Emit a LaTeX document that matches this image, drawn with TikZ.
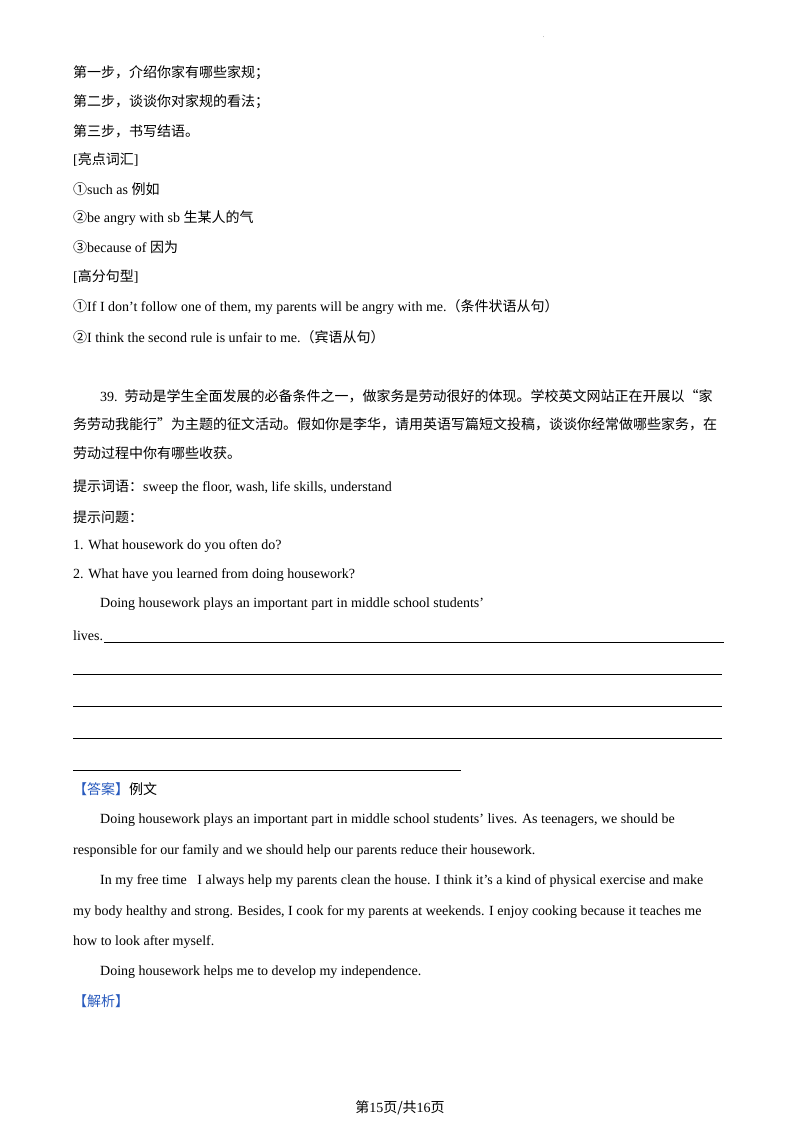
\documentclass[tikz,border=0pt]{standalone}
\usepackage{fontspec}
\setmainfont{Liberation Serif}
\newfontfamily\cjk{Noto Sans CJK SC}
\definecolor{ans}{RGB}{40,90,190}
\begin{document}
\begin{tikzpicture}[x=1pt,y=-1pt,
  t/.style={anchor=west,inner sep=0pt,font=\fontsize{14}{16}\selectfont},
  ul/.style={line width=0.6pt}]
\useasboundingbox[fill=white] (0,0) rectangle (800,1132);
\node[t,font=\tiny] (dot) at (543,37) {.};
\node[t] (a1) at (73,73) {\cjk 第一步，介绍你家有哪些家规；};
\node[t] (a2) at (73,102) {\cjk 第二步，谈谈你对家规的看法；};
\node[t] (a3) at (73,131) {\cjk 第三步，书写结语。};
\node[t] (a4) at (73,160) {[{\cjk 亮点词汇}]};
\node[t] (a5) at (73,189) {{\cjk ①}such as {\cjk 例如}};
\node[t] (a6) at (73,218) {{\cjk ②}be angry with sb {\cjk 生某人的气}};
\node[t] (a7) at (73,247) {{\cjk ③}because of {\cjk 因为}};
\node[t] (a8) at (73,277) {[{\cjk 高分句型}]};
\node[t] (a9) at (73,307) {{\cjk ①}If I don’t follow one of them, my parents will be angry with me.{\cjk （条件状语从句）}};
\node[t] (a10) at (73,337) {{\cjk ②}I think the second rule is unfair to me.{\cjk （宾语从句）}};
\node[t] (b1) at (100,396) {39.\ \ {\cjk 劳动是学生全面发展的必备条件之一，做家务是劳动很好的体现。学校英文网站正在开展以“家}};
\node[t] (b2) at (73,424) {\cjk 务劳动我能行”为主题的征文活动。假如你是李华，请用英语写篇短文投稿，谈谈你经常做哪些家务，在};
\node[t] (b3) at (73,453) {\cjk 劳动过程中你有哪些收获。};
\node[t] (b4) at (73,487) {{\cjk 提示词语：}sweep the floor, wash, life skills, understand};
\node[t] (b5) at (73,517) {\cjk 提示问题：};
\node[t] (b6) at (73,546) {1. What housework do you often do?};
\node[t] (b7) at (73,575) {2. What have you learned from doing housework?};
\node[t] (b8) at (100,604) {Doing housework plays an important part in middle school students’};
\node[t] (b9) at (73,636) {lives.};
\coordinate (l0) at (104,642); \coordinate (r0) at (724,642);
\draw[ul] (l0) -- (r0);
\foreach \yy in {674,706,738} { \draw[ul] (73,\yy) -- (722,\yy); }
\draw[ul] (73,770) -- (461,770);
\node[t] (c0) at (73,789) {{\cjk\color{ans}【答案】}{\cjk 例文}};
\node[t] (c2) at (100,820) {Doing housework plays an important part in middle school students’ lives. As teenagers, we should be};
\node[t] (c3) at (73,851) {responsible for our family and we should help our parents reduce their housework.};
\node[t] (c4) at (100,881) {In my free time\ \ \ I always help my parents clean the house. I think it’s a kind of physical exercise and make};
\node[t] (c5) at (73,912) {my body healthy and strong. Besides, I cook for my parents at weekends. I enjoy cooking because it teaches me};
\node[t] (c6) at (73,942) {how to look after myself.};
\node[t] (c7) at (100,972) {Doing housework helps me to develop my independence.};
\node[t] (c8) at (73,1001) {\cjk\color{ans}【解析】};
\node[t,anchor=center] (ft) at (400,1108) {{\cjk 第}15{\cjk 页/共}16{\cjk 页}};
\end{tikzpicture}
\end{document}
